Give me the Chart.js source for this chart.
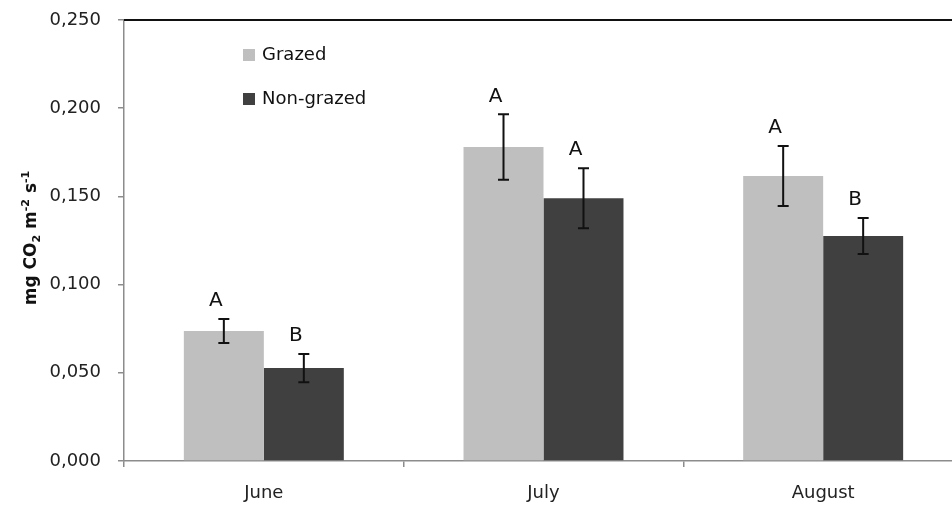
<!DOCTYPE html>
<html>
<head>
<meta charset="utf-8">
<script src="https://cdn.jsdelivr.net/npm/chart.js@4.4.1/dist/chart.umd.min.js"></script>
<style>
  html, body { margin: 0; padding: 0; background: #fff; overflow: hidden; }
  #wrap { width: 970px; height: 506px; position: relative; }
</style>
</head>
<body>
<div id="wrap"><canvas id="c"></canvas></div>
<script>
const categories = ['June', 'July', 'August'];
const grazed = [0.0737, 0.178, 0.1616];
const grazedErr = [0.0068, 0.0185, 0.017];
const nonGrazed = [0.0527, 0.149, 0.1276];
const nonGrazedErr = [0.008, 0.017, 0.0102];
const grazedLetters = ['A', 'A', 'A'];
const nonGrazedLetters = ['B', 'A', 'B'];
const yTickValues = [0, 0.05, 0.10, 0.15, 0.20, 0.25];
const seriesNames = ['Grazed', 'Non-grazed'];

const FONT = 'DejaVu Sans';
const errs = [grazedErr, nonGrazedErr];
const letters = [grazedLetters, nonGrazedLetters];

const extras = {
  id: 'extras',
  afterDatasetsDraw(chart) {
    const ctx = chart.ctx;
    const y = chart.scales.y;
    const area = chart.chartArea;
    ctx.save();
    chart.data.datasets.forEach((ds, di) => {
      const meta = chart.getDatasetMeta(di);
      meta.data.forEach((bar, i) => {
        const v = ds.data[i];
        const e = errs[di][i];
        const yt = y.getPixelForValue(v + e);
        const yb = y.getPixelForValue(v - e);
        const x = bar.x;
        ctx.strokeStyle = '#111';
        ctx.lineWidth = 2;
        ctx.beginPath();
        ctx.moveTo(x, yt); ctx.lineTo(x, yb);
        ctx.moveTo(x - 5.5, yt); ctx.lineTo(x + 5.5, yt);
        ctx.moveTo(x - 5.5, yb); ctx.lineTo(x + 5.5, yb);
        ctx.stroke();
        ctx.fillStyle = '#111';
        ctx.font = '20px "' + FONT + '"';
        ctx.textAlign = 'center';
        ctx.textBaseline = 'middle';
        ctx.fillText(letters[di][i], x - 8, yt - 18);
      });
    });
    ctx.strokeStyle = '#111';
    ctx.lineWidth = 2;
    ctx.beginPath();
    ctx.moveTo(area.left, area.top); ctx.lineTo(chart.width, area.top);
    ctx.stroke();
    const lx = 243, ly = [55, 99];
    chart.data.datasets.forEach((ds, di) => {
      ctx.fillStyle = ds.backgroundColor;
      ctx.fillRect(lx, ly[di] - 6, 12, 12);
      ctx.fillStyle = '#111';
      ctx.font = '18px "' + FONT + '"';
      ctx.textAlign = 'left';
      ctx.textBaseline = 'middle';
      ctx.fillText(seriesNames[di], lx + 19, ly[di]);
    });
    const parts = [
      {t: 'mg CO', s: 17, dy: 0},
      {t: '2', s: 11, dy: 4},
      {t: ' m', s: 17, dy: 0},
      {t: '-2', s: 11, dy: -7},
      {t: ' s', s: 17, dy: 0},
      {t: '-1', s: 11, dy: -7}
    ];
    let total = 0;
    parts.forEach(p => { ctx.font = 'bold ' + p.s + 'px "' + FONT + '"'; p.w = ctx.measureText(p.t).width; total += p.w; });
    ctx.translate(30, 238);
    ctx.rotate(-Math.PI / 2);
    let cx = -total / 2;
    ctx.textAlign = 'left';
    ctx.textBaseline = 'alphabetic';
    ctx.fillStyle = '#111';
    parts.forEach(p => {
      ctx.font = 'bold ' + p.s + 'px "' + FONT + '"';
      ctx.fillText(p.t, cx, 6 + p.dy);
      cx += p.w;
    });
    ctx.restore();
  }
};

new Chart(document.getElementById('c'), {
  type: 'bar',
  data: {
    labels: categories,
    datasets: [
      { label: seriesNames[0], data: grazed, backgroundColor: '#bfbfbf', borderWidth: 0,
        categoryPercentage: 0.572, barPercentage: 1.0 },
      { label: seriesNames[1], data: nonGrazed, backgroundColor: '#404040', borderWidth: 0,
        categoryPercentage: 0.572, barPercentage: 1.0 }
    ]
  },
  options: {
    responsive: true,
    maintainAspectRatio: false,
    animation: false,
    layout: { padding: { left: 0, top: 20, right: 7, bottom: 0 } },
    plugins: { legend: { display: false }, tooltip: { enabled: false } },
    scales: {
      x: {
        afterFit: s => { s.height = 45; s.paddingLeft = 0; s.paddingRight = 0; },
        grid: { drawOnChartArea: false, offset: true, color: '#8c8c8c', tickLength: 6, lineWidth: 1.5 },
        border: { color: '#8c8c8c', width: 1.5 },
        ticks: { color: '#222', font: { family: FONT, size: 18 }, padding: 16 }
      },
      y: {
        min: 0, max: 0.25,
        afterFit: s => { s.width = 124; s.paddingTop = 0; s.paddingBottom = 0; },
        afterBuildTicks: s => { s.ticks = yTickValues.map(v => ({ value: v })); },
        grid: { drawOnChartArea: false, color: '#8c8c8c', tickLength: 6, lineWidth: 1.5 },
        border: { color: '#8c8c8c', width: 1.5 },
        ticks: { color: '#222', font: { family: FONT, size: 18 }, padding: 17,
          callback: v => v.toFixed(3).replace('.', ',') }
      }
    }
  },
  plugins: [extras]
});
</script>
</body>
</html>
